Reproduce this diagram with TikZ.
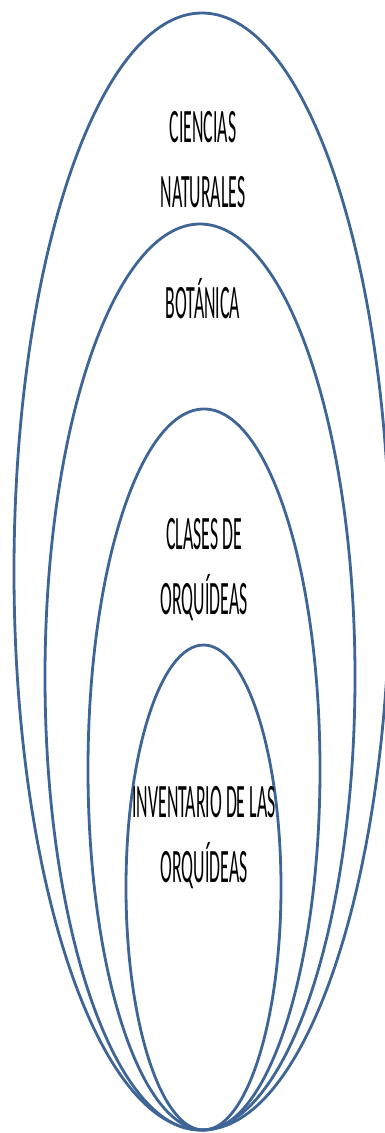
\documentclass[tikz,border=0pt]{standalone}
\usepackage{fontspec}
\usepackage{xcolor}
\usepackage{tikz}
\usetikzlibrary{shapes.geometric, positioning}
\newfontfamily\labelfont{Carlito}[FakeStretch=0.37]
\definecolor{rim}{HTML}{3F6597}
\tikzstyle{setring} = [ellipse, draw=rim, line width=2.8pt, inner sep=0pt]
\tikzstyle{setlabel} = [align=center, text=black, inner sep=0pt,
                        font=\labelfont\fontsize{48}{65}\selectfont]

\begin{document}
\begin{tikzpicture}[x=1pt, y=-1pt]

  \useasboundingbox (0,0) rectangle (385,1133);

  %% Nested sets, all touching at the bottom
  \node[setring, minimum width=376pt, minimum height=1117pt] (nat) at (202,571.5) {};
  \node[setring, minimum width=310pt, minimum height=906pt]  (bot) at (200,677) {};
  \node[setring, minimum width=232pt, minimum height=721pt]  (cla) at (204,769.5) {};
  \node[setring, minimum width=155pt, minimum height=485pt]  (inv) at (203.5,887.5) {};

  %% Labels
  \node[setlabel] (natlbl) at (203,160) {CIENCIAS\\NATURALES};
  \node[setlabel] (botlbl) at (203,299) {BOTÁNICA};
  \node[setlabel] (clalbl) at (204,570) {CLASES DE\\ORQUÍDEAS};
  \node[setlabel] (invlbl) at (204,838) {INVENTARIO DE LAS\\ORQUÍDEAS};

\end{tikzpicture}
\end{document}
